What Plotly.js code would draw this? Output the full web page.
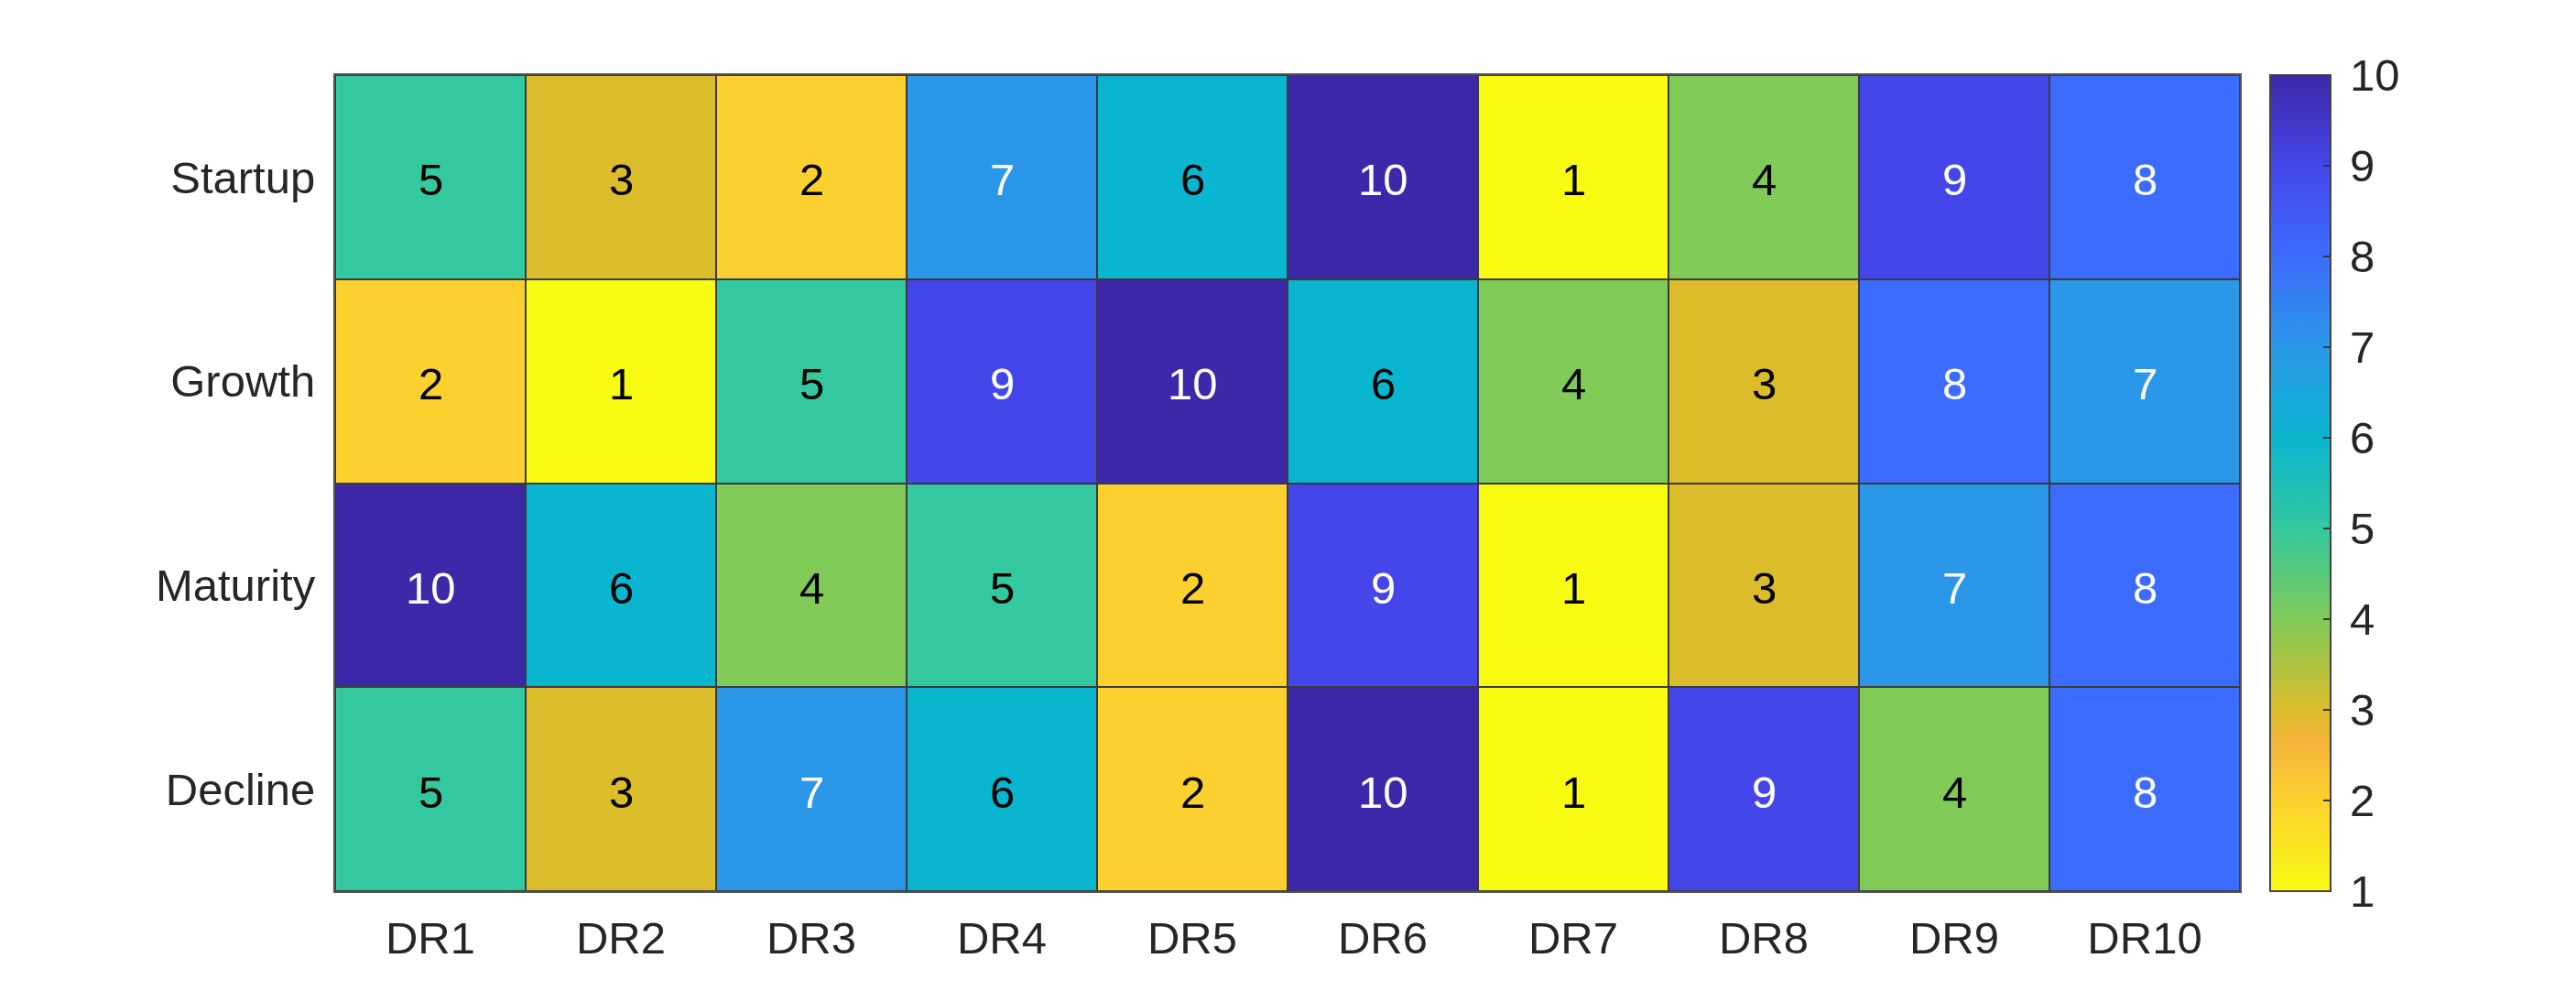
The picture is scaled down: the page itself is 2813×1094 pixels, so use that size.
<!DOCTYPE html>
<html>
<head>
<meta charset="utf-8">
<script src="https://cdn.plot.ly/plotly-3.0.1.min.js"></script>
<style>html,body{margin:0;padding:0;background:#fff;}#chart{width:2813px;height:1094px;}</style>
</head>
<body>
<div id="chart"></div>
<script>
const columns = ["DR1","DR2","DR3","DR4","DR5","DR6","DR7","DR8","DR9","DR10"];
const stages = ["Startup","Growth","Maturity","Decline"];
const startup  = [5,3,2,7,6,10,1,4,9,8];
const growth   = [2,1,5,9,10,6,4,3,8,7];
const maturity = [10,6,4,5,2,9,1,3,7,8];
const decline  = [5,3,7,6,2,10,1,9,4,8];
const colorTicks = [1,2,3,4,5,6,7,8,9,10];

const z = [startup, growth, maturity, decline];
const zmin = 1, zmax = 10;
const stop = v => (v - zmin) / (zmax - zmin);
const colorscale = [
  [stop(1), '#f8fa12'],
  [stop(2), '#fcd12f'],
  [stop(2.6), '#f8b53b'],
  [stop(3), '#dbbc2b'],
  [stop(4), '#80cb58'],
  [stop(5), '#33c8a0'],
  [stop(6), '#0ab5d0'],
  [stop(7), '#2a97e8'],
  [stop(8), '#3c6cfd'],
  [stop(9), '#4446e9'],
  [stop(10), '#3c28a8']
];

const font = 'Liberation Sans, Arial, Helvetica, sans-serif';
const annotations = [];
z.forEach((row, i) => row.forEach((v, j) => {
  annotations.push({
    x: columns[j], y: stages[i], xref: 'x', yref: 'y', text: String(v),
    showarrow: false, yshift: -3,
    font: {family: font, size: 49, color: v >= 7 ? '#ffffff' : '#000000'}
  });
}));

const trace = {
  type: 'heatmap', x: columns, y: stages, z: z,
  zmin: zmin, zmax: zmax, colorscale: colorscale,
  xgap: 2, ygap: 2, hoverongaps: false,
  colorbar: {
    x: (2479 - 366) / 2080, xanchor: 'left', xpad: 0, ypad: 0,
    y: 0.5, yanchor: 'middle', len: 1, lenmode: 'fraction',
    thickness: 66, thicknessmode: 'pixels',
    outlinewidth: 2, outlinecolor: '#444',
    tickvals: colorTicks, ticktext: colorTicks.map(v => '\u2009' + v),
    ticks: 'inside', ticklen: 9, tickwidth: 2, tickcolor: '#333',
    tickfont: {family: font, size: 49, color: '#262626'}
  }
};

const layout = {
  width: 2813, height: 1094,
  margin: {l: 366, r: 367, t: 82, b: 121},
  paper_bgcolor: '#ffffff', plot_bgcolor: '#3a3a3a',
  showlegend: false,
  xaxis: {type: 'category', showgrid: false, zeroline: false, ticks: '',
    showline: true, linecolor: '#555', linewidth: 2, mirror: true,
    tickfont: {family: font, size: 49, color: '#262626'}, ticklabelstandoff: 7},
  yaxis: {type: 'category', autorange: 'reversed', showgrid: false, zeroline: false, ticks: '',
    showline: true, linecolor: '#555', linewidth: 2, mirror: true,
    tickfont: {family: font, size: 49, color: '#262626'}, ticklabelstandoff: 10},
  annotations: annotations
};

Plotly.newPlot('chart', [trace], layout, {displayModeBar: false, staticPlot: true});
</script>
</body>
</html>
